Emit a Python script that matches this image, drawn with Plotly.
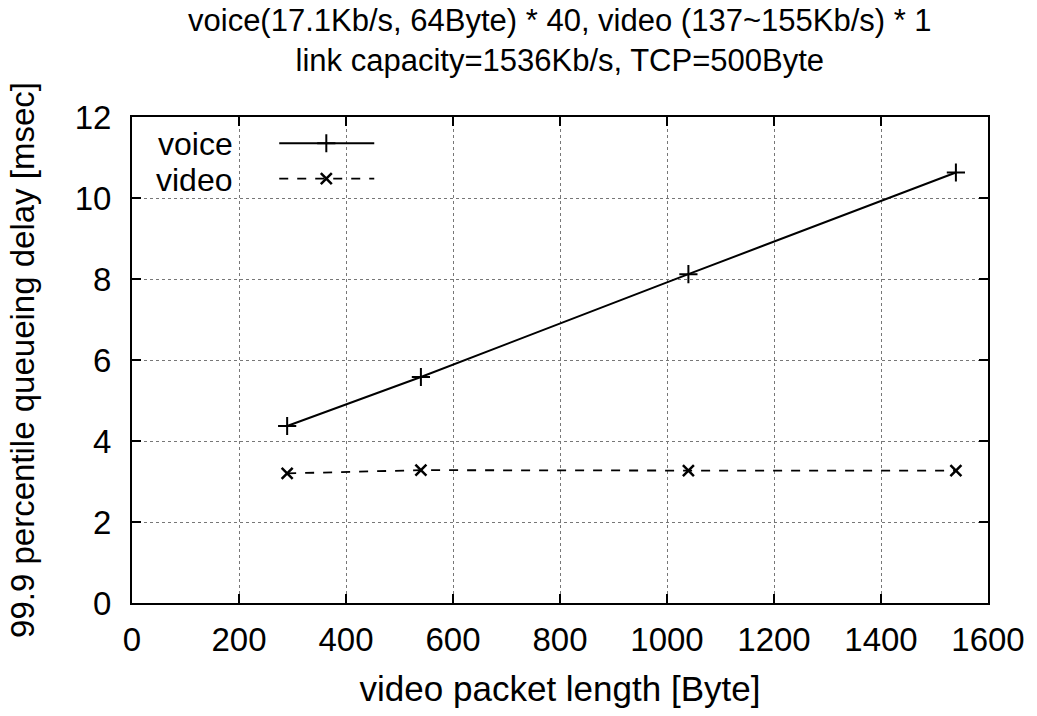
import plotly.graph_objects as go

# Video packet length [Byte] and 99.9 percentile queueing delay [msec]
packet_length = [290, 540, 1040, 1540]
voice_delay = [4.37, 5.58, 8.12, 10.63]
video_delay = [3.2, 3.28, 3.27, 3.27]

x_ticks = [0, 200, 400, 600, 800, 1000, 1200, 1400, 1600]
y_ticks = [0, 2, 4, 6, 8, 10, 12]

title_lines = [
    "voice(17.1Kb/s, 64Byte) * 40, video (137~155Kb/s) * 1",
    "link capacity=1536Kb/s, TCP=500Byte",
]

FONT = "Liberation Sans"

fig = go.Figure()

fig.add_trace(go.Scatter(
    x=packet_length, y=voice_delay, mode="lines+markers", name="voice",
    line=dict(color="black", width=2),
    marker=dict(symbol="cross-thin", size=13, color="black",
                line=dict(color="black", width=2)),
    showlegend=False,
))
fig.add_trace(go.Scatter(
    x=packet_length, y=video_delay, mode="lines+markers", name="video",
    line=dict(color="black", width=1.8, dash="dash"),
    marker=dict(symbol="x-thin", size=11, color="black",
                line=dict(color="black", width=2.5)),
    showlegend=False,
))

# Key drawn gnuplot-style: label on the left, line sample on the right
key_axes = dict(xaxis="x2", yaxis="y2")
fig.add_trace(go.Scatter(
    x=[0.172, 0.283], y=[0.946, 0.946], mode="lines", **key_axes,
    line=dict(color="black", width=2), showlegend=False, hoverinfo="skip"))
fig.add_trace(go.Scatter(
    x=[0.227], y=[0.946], mode="markers", **key_axes,
    marker=dict(symbol="cross-thin", size=13, line=dict(color="black", width=2)),
    showlegend=False, hoverinfo="skip"))
fig.add_trace(go.Scatter(
    x=[0.172, 0.283], y=[0.873, 0.873], mode="lines", **key_axes,
    line=dict(color="black", width=1.8, dash="dash"), showlegend=False, hoverinfo="skip"))
fig.add_trace(go.Scatter(
    x=[0.227], y=[0.873], mode="markers", **key_axes,
    marker=dict(symbol="x-thin", size=11, line=dict(color="black", width=2.5)),
    showlegend=False, hoverinfo="skip"))

for label, yy in (("voice", 0.944), ("video", 0.870)):
    fig.add_annotation(
        text=label, xref="paper", yref="paper", x=0.12, y=yy,
        xanchor="right", yanchor="middle", showarrow=False,
        font=dict(family=FONT, size=32, color="black"))

# Two-line heading above the plot area
fig.add_annotation(
    text="<br>".join(title_lines), xref="paper", yref="paper", x=0.5, y=1.158,
    xanchor="center", yanchor="middle", showarrow=False,
    font=dict(family=FONT, size=31, color="black"))

axis_common = dict(
    showline=True, linecolor="black", linewidth=2, mirror="allticks",
    ticks="inside", ticklen=9, tickwidth=2, tickcolor="black",
    showgrid=True, gridcolor="#777", gridwidth=1, griddash="dot",
    zeroline=False, tickfont=dict(family=FONT, size=33, color="black"),
)

fig.update_layout(
    width=1037, height=716,
    margin=dict(l=132, r=45, t=117, b=113),
    paper_bgcolor="white", plot_bgcolor="white",
    font=dict(family=FONT, color="black"),
    xaxis=dict(range=[0, 1600], tickvals=x_ticks, ticktext=[str(v) for v in x_ticks],
               ticklabelstandoff=6,
               title=dict(text="video packet length [Byte]", standoff=20,
                          font=dict(family=FONT, size=35)),
               **axis_common),
    yaxis=dict(range=[0, 12], tickvals=y_ticks, ticktext=[str(v) for v in y_ticks],
               ticklabelstandoff=12,
               title=dict(text="99.9 percentile queueing delay [msec]", standoff=30,
                          font=dict(family=FONT, size=33)),
               **axis_common),
    xaxis2=dict(range=[0, 1], overlaying="x", visible=False, fixedrange=True),
    yaxis2=dict(range=[0, 1], overlaying="y", visible=False, fixedrange=True),
)

fig.write_html("out.html")
